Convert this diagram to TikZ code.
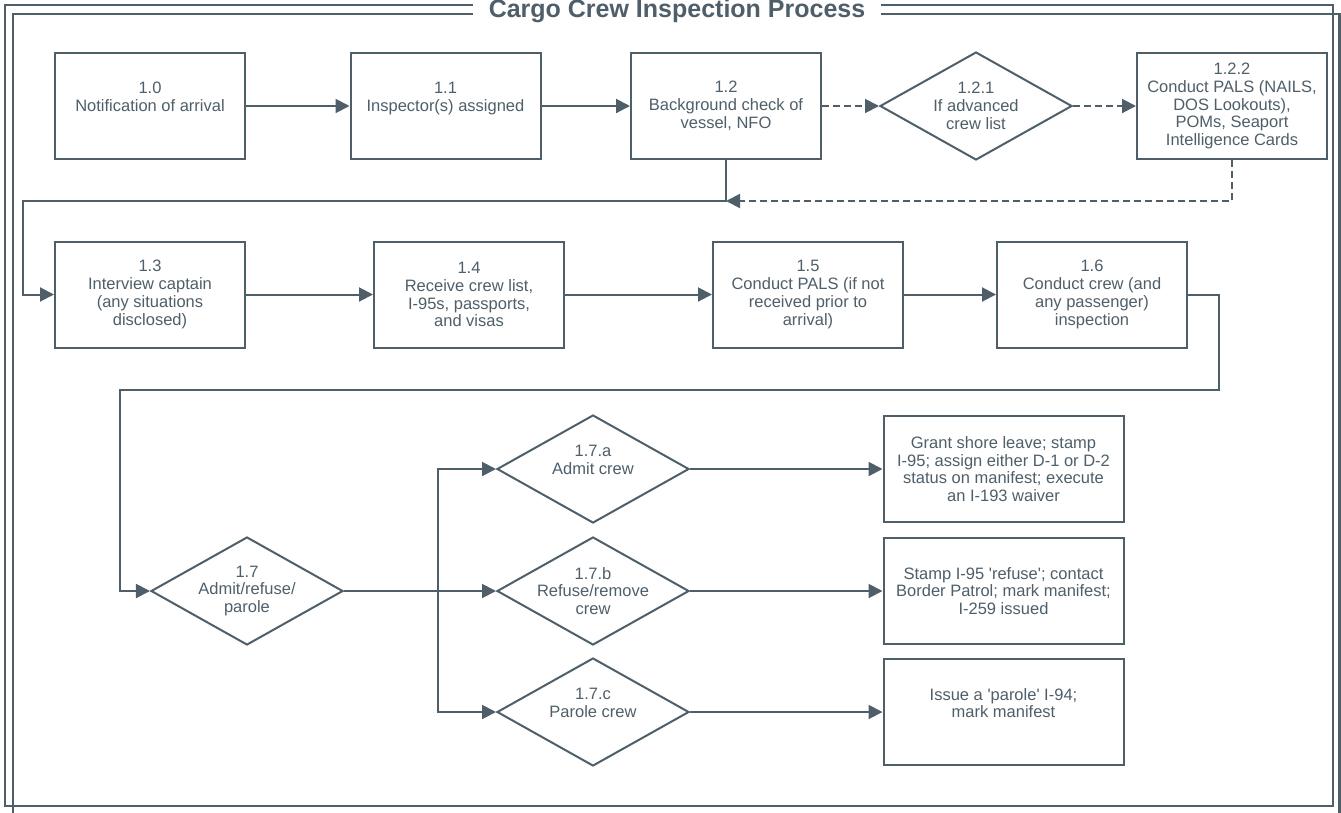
\documentclass[tikz,border=0pt]{standalone}
\usepackage{fontspec}
\setmainfont{Liberation Sans}
\usetikzlibrary{positioning, arrows.meta, shapes.geometric}
\definecolor{slate}{RGB}{79,95,105}

\begin{document}
\begin{tikzpicture}[x=1pt, y=-1pt,
        every node/.style={text=slate, font=\fontsize{16.5}{17.8}\selectfont, align=center},
        procbox/.style={draw=slate, line width=2pt, minimum width=190pt, minimum height=106pt, inner sep=0pt},
        outbox/.style={procbox, minimum width=240pt},
        choice/.style={draw=slate, line width=2pt, shape=diamond, aspect=1.78, minimum width=192pt, minimum height=108pt, inner sep=-6pt},
        flow/.style={draw=slate, line width=2pt, -{Triangle[length=14pt,width=14pt]}},
        dflow/.style={flow, dash pattern=on 7pt off 4pt}]
        \useasboundingbox (0,0) rectangle (1341,812);
        \fill[white] (0,0) rectangle (1341,812);
        % double frame and title
        \draw[slate, line width=2.2pt] (5,5) rectangle (1333,806);
        \draw[slate, line width=2.2pt] (13,14) rectangle (1339.5,822);
        \node[fill=white, inner xsep=16pt, inner ysep=2pt, font=\bfseries\fontsize{25}{28}\selectfont] (title) at (677,11) {Cargo Crew Inspection Process};

        \node[procbox] (n10) at (150,106) {1.0\\Notification of arrival\\\mbox{}};
        \node[procbox] (n11) at (445.5,106) {1.1\\Inspector(s) assigned\\\mbox{}};
        \node[procbox] (n12) at (726,106) {1.2\\Background check of\\vessel, NFO};
        \node[choice] (n121) at (976,106) {1.2.1\\If advanced\\crew list};
        \node[procbox] (n122) at (1232,106) {1.2.2\\Conduct PALS (NAILS,\\DOS Lookouts),\\POMs, Seaport\\Intelligence Cards};
        \coordinate (merge) at (23,201);

        \node[procbox] (n13) at (150,294.5) {1.3\\Interview captain\\(any situations\\disclosed)};
        \node[procbox] (n14) at (469,294.5) {1.4\\Receive crew list,\\I-95s, passports,\\and visas};
        \node[procbox] (n15) at (808,294.5) {1.5\\Conduct PALS (if not\\received prior to\\arrival)};
        \node[procbox] (n16) at (1092,294.5) {1.6\\Conduct crew (and\\any passenger)\\inspection};
        \coordinate (turn) at (1219,390);
        \coordinate (drop) at (120,390);

        \node[choice] (n17) at (247,591) {1.7\\Admit/refuse/\\parole};
        \coordinate (fork) at (437.5,591);
        \node[choice] (n17a) at (593,469) {1.7.a\\Admit crew\\\mbox{}};
        \node[choice] (n17b) at (593,591) {1.7.b\\Refuse/remove\\crew};
        \node[choice] (n17c) at (593,712) {1.7.c\\Parole crew\\\mbox{}};
        \node[outbox] (outa) at (1003.5,469) {Grant shore leave; stamp\\I-95; assign either D-1 or D-2\\status on manifest; execute\\an I-193 waiver};
        \node[outbox] (outb) at (1003.5,591) {Stamp I-95 \textquotesingle refuse\textquotesingle; contact\\Border Patrol; mark manifest;\\I-259 issued};
        \node[outbox] (outc) at (1003.5,712) {Issue a \textquotesingle parole\textquotesingle\ I-94;\\mark manifest\\\mbox{}};

        \draw[flow] (n10) -- (n11);
        \draw[flow] (n11) -- (n12);
        \draw[dflow] (n12) -- (n121);
        \draw[dflow] (n121) -- (n122);
        \draw[dflow] (n122.south) |- (n12.south |- merge);
        \draw[flow] (n12.south) |- (merge) |- (n13);
        \draw[flow] (n13) -- (n14);
        \draw[flow] (n14) -- (n15);
        \draw[flow] (n15) -- (n16);
        \draw[flow] (n16) -| (turn) -- (drop) |- (n17);
        \draw[flow] (n17) -- (n17b);
        \draw[flow] (fork) |- (n17a);
        \draw[flow] (fork) |- (n17c);
        \draw[flow] (n17a) -- (outa);
        \draw[flow] (n17b) -- (outb);
        \draw[flow] (n17c) -- (outc);
\end{tikzpicture}
\end{document}
